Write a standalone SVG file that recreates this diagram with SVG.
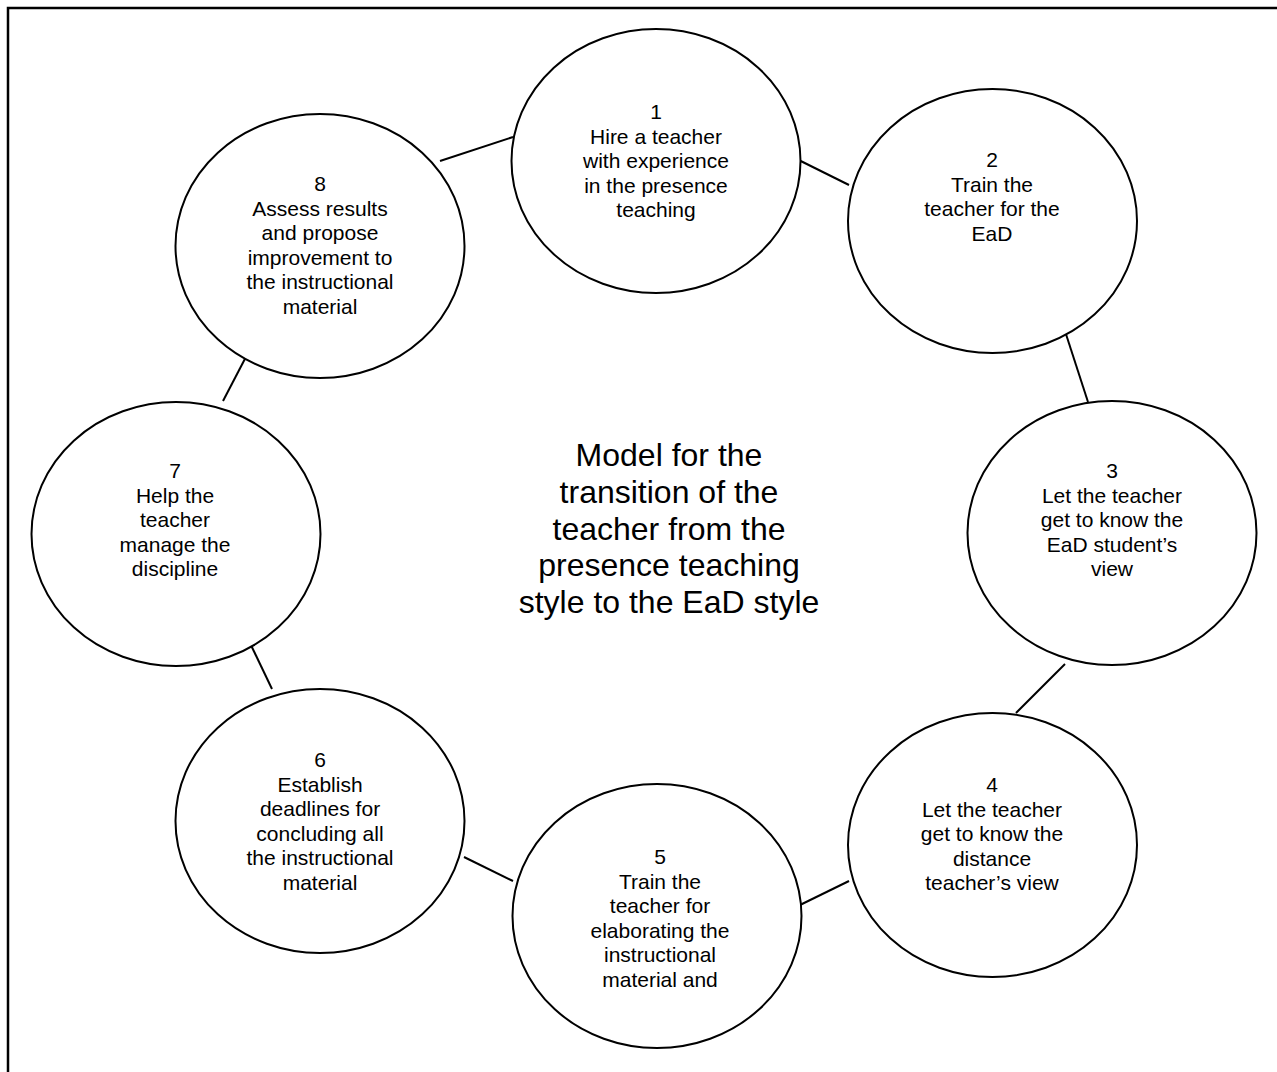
<svg xmlns="http://www.w3.org/2000/svg" width="1277" height="1072" viewBox="0 0 1277 1072">
<style>
.node{fill:#fff;stroke:#000;stroke-width:2}
.t{font-family:"Liberation Sans",Arial,sans-serif;font-size:21px;fill:#000;text-anchor:middle}
.title{font-family:"Liberation Sans",Arial,sans-serif;font-size:32px;fill:#000;text-anchor:middle}
.conn line{stroke:#000;stroke-width:2}
</style>
<rect width="1277" height="1072" fill="#fff"/>
<path d="M8,1072 V8 H1277" fill="none" stroke="#000" stroke-width="2.5"/>
<g id="connectors" class="conn">
<line x1="800.7" y1="161" x2="849" y2="185"/>
<line x1="1064" y1="328" x2="1088" y2="402"/>
<line x1="1065" y1="664" x2="1016" y2="713"/>
<line x1="849" y1="881" x2="800" y2="905"/>
<line x1="464" y1="857" x2="513" y2="881"/>
<line x1="249" y1="641" x2="272" y2="689"/>
<line x1="223" y1="401" x2="248" y2="353"/>
<line x1="440" y1="161" x2="513" y2="137"/>
</g>
<g id="node1">
<ellipse class="node" cx="656" cy="161" rx="144.5" ry="132"/>
<text class="t" x="656" y="119">1</text>
<text class="t" x="656" y="143.5">Hire a teacher</text>
<text class="t" x="656" y="168">with experience</text>
<text class="t" x="656" y="192.5">in the presence</text>
<text class="t" x="656" y="217">teaching</text>
</g>
<g id="node2">
<ellipse class="node" cx="992.5" cy="221" rx="144.5" ry="132"/>
<text class="t" x="992" y="167">2</text>
<text class="t" x="992" y="191.5">Train the</text>
<text class="t" x="992" y="216">teacher for the</text>
<text class="t" x="992" y="240.5">EaD</text>
</g>
<g id="node3">
<ellipse class="node" cx="1112" cy="533" rx="144.5" ry="132"/>
<text class="t" x="1112" y="478">3</text>
<text class="t" x="1112" y="502.5">Let the teacher</text>
<text class="t" x="1112" y="527">get to know the</text>
<text class="t" x="1112" y="551.5">EaD student’s</text>
<text class="t" x="1112" y="576">view</text>
</g>
<g id="node4">
<ellipse class="node" cx="992.5" cy="845" rx="144.5" ry="132"/>
<text class="t" x="992" y="792">4</text>
<text class="t" x="992" y="816.5">Let the teacher</text>
<text class="t" x="992" y="841">get to know the</text>
<text class="t" x="992" y="865.5">distance</text>
<text class="t" x="992" y="890">teacher’s view</text>
</g>
<g id="node5">
<ellipse class="node" cx="657" cy="916" rx="144.5" ry="132"/>
<text class="t" x="660" y="864">5</text>
<text class="t" x="660" y="888.5">Train the</text>
<text class="t" x="660" y="913">teacher for</text>
<text class="t" x="660" y="937.5">elaborating the</text>
<text class="t" x="660" y="962">instructional</text>
<text class="t" x="660" y="986.5">material and</text>
</g>
<g id="node6">
<ellipse class="node" cx="320" cy="821" rx="144.5" ry="132"/>
<text class="t" x="320" y="767">6</text>
<text class="t" x="320" y="791.5">Establish</text>
<text class="t" x="320" y="816">deadlines for</text>
<text class="t" x="320" y="840.5">concluding all</text>
<text class="t" x="320" y="865">the instructional</text>
<text class="t" x="320" y="889.5">material</text>
</g>
<g id="node7">
<ellipse class="node" cx="176" cy="534" rx="144.5" ry="132"/>
<text class="t" x="175" y="478">7</text>
<text class="t" x="175" y="502.5">Help the</text>
<text class="t" x="175" y="527">teacher</text>
<text class="t" x="175" y="551.5">manage the</text>
<text class="t" x="175" y="576">discipline</text>
</g>
<g id="node8">
<ellipse class="node" cx="320" cy="246" rx="144.5" ry="132"/>
<text class="t" x="320" y="191">8</text>
<text class="t" x="320" y="215.5">Assess results</text>
<text class="t" x="320" y="240">and propose</text>
<text class="t" x="320" y="264.5">improvement to</text>
<text class="t" x="320" y="289">the instructional</text>
<text class="t" x="320" y="313.5">material</text>
</g>
<g id="title">
<text class="title" x="669" y="466">Model for the</text>
<text class="title" x="669" y="503">transition of the</text>
<text class="title" x="669" y="539.5">teacher from the</text>
<text class="title" x="669" y="576">presence teaching</text>
<text class="title" x="669" y="613">style to the EaD style</text>
</g>
</svg>
